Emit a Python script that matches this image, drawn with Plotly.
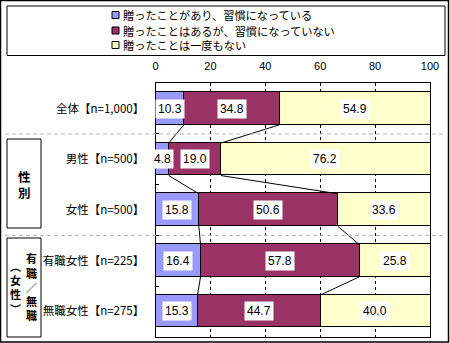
import plotly.graph_objects as go

# ---- data ----
categories = ["全体【n=1,000】", "男性【n=500】", "女性【n=500】", "有職女性【n=225】", "無職女性【n=275】"]
series_names = ["贈ったことがあり、習慣になっている", "贈ったことはあるが、習慣になっていない", "贈ったことは一度もない"]
habit = [10.3, 4.8, 15.8, 16.4, 15.3]
no_habit = [34.8, 19.0, 50.6, 57.8, 44.7]
never = [54.9, 76.2, 33.6, 25.8, 40.0]
x_ticks = [0, 20, 40, 60, 80, 100]

colors = ["#9999FF", "#993366", "#FFFFCC"]
W, H = 450, 343
JP = "Noto Sans CJK JP"
NUM = "Liberation Sans"


def px(x):
    return x / W


def py(y):
    return 1 - y / H


pos = list(range(len(categories)))
bar_w = 0.64
values = [habit, no_habit, never]

fig = go.Figure()
for name, vals, col in zip(series_names, values, colors):
    fig.add_trace(go.Bar(
        y=pos, x=vals, name=name, orientation="h", width=bar_w,
        marker=dict(color=col, line=dict(color="black", width=1)),
        showlegend=False, hoverinfo="skip",
    ))

# series lines joining the segment boundaries of neighbouring bars
cum1 = habit
cum2 = [a + b for a, b in zip(habit, no_habit)]
lx, ly = [], []
for cum in (cum1, cum2):
    for i in range(len(pos) - 1):
        lx += [cum[i], cum[i + 1], None]
        ly += [pos[i] + bar_w / 2, pos[i + 1] - bar_w / 2, None]
fig.add_trace(go.Scatter(x=lx, y=ly, mode="lines", line=dict(color="black", width=1),
                         showlegend=False, hoverinfo="skip"))

annotations = []
# value labels on white boxes
for vals, starts in ((habit, [0] * len(pos)), (no_habit, cum1), (never, cum2)):
    for i, (v, s) in enumerate(zip(vals, starts)):
        annotations.append(dict(
            x=s + v / 2, y=pos[i], xref="x", yref="y", text=f"{v:.1f}",
            showarrow=False, bgcolor="white", borderpad=2,
            font=dict(family=NUM, size=12, color="black"),
        ))

shapes = []
# outer frame and legend box
shapes.append(dict(type="rect", xref="paper", yref="paper", x0=px(0.5), x1=px(448.5),
                   y0=py(342), y1=py(0.5), line=dict(color="black", width=1.5)))
shapes.append(dict(type="rect", xref="paper", yref="paper", x0=px(7), x1=px(445),
                   y0=py(55.5), y1=py(6), line=dict(color="black", width=1)))

# legend entries
legend_rows = [15, 30.5, 45]
for name, col, yc in zip(series_names, colors, legend_rows):
    shapes.append(dict(type="rect", xref="paper", yref="paper", x0=px(112), x1=px(119),
                       y0=py(yc + 3.5), y1=py(yc - 3.5), fillcolor=col,
                       line=dict(color="black", width=1)))
    annotations.append(dict(x=px(121), y=py(yc), xref="paper", yref="paper", text=name,
                            showarrow=False, xanchor="left", yanchor="middle",
                            font=dict(family=JP, size=11.2, color="black")))

# dashed separators between groups
for yb in (0.5, 2.5):
    shapes.append(dict(type="line", xref="paper", yref="y", x0=px(5), x1=px(443),
                       y0=yb, y1=yb, line=dict(color="#B4B4B4", width=1, dash="4px,3px")))

# group boxes with vertical titles
shapes.append(dict(type="rect", xref="paper", yref="paper", x0=px(7), x1=px(41),
                   y0=py(228), y1=py(139), line=dict(color="black", width=1)))
shapes.append(dict(type="rect", xref="paper", yref="paper", x0=px(7), x1=px(41),
                   y0=py(337), y1=py(238), line=dict(color="black", width=1)))


def vertical_text(chars, x, y_positions, size):
    for ch, yc in zip(chars, y_positions):
        annotations.append(dict(x=px(x), y=py(yc), xref="paper", yref="paper",
                                text=f"<b>{ch}</b>", showarrow=False,
                                xanchor="center", yanchor="middle",
                                font=dict(family=JP, size=size, color="black")))


vertical_text("性別", 24, [176.5, 192.5], 12.5)
vertical_text("有職／無職", 31, [258, 272.5, 286.5, 300.5, 315], 11)
vertical_text("︵女性︶", 15, [266, 280, 294, 309], 11)

fig.update_layout(
    width=W, height=H, autosize=False,
    margin=dict(l=0, r=0, t=0, b=0),
    paper_bgcolor="white", plot_bgcolor="white",
    barmode="stack", bargap=0,
    showlegend=False,
    annotations=annotations, shapes=shapes,
    xaxis=dict(
        domain=[px(155.5), px(430)], range=[0, 100], side="top",
        tickvals=x_ticks, ticktext=[str(t) for t in x_ticks],
        showgrid=True, gridcolor="black", griddash="3px,3px", gridwidth=1,
        zeroline=False, showline=True, mirror=True, linecolor="black", linewidth=1,
        ticks="", ticklabelstandoff=8, automargin=False,
        tickfont=dict(family=NUM, size=11, color="black"), fixedrange=True,
    ),
    yaxis=dict(
        domain=[py(336.7), py(83.3)], range=[4.5, -0.5],
        tickvals=pos, ticktext=categories,
        showgrid=False, zeroline=False, showline=True, mirror=True,
        linecolor="black", linewidth=1, ticks="", ticklabelstandoff=8, automargin=False,
        minor=dict(tickvals=[0.5, 1.5, 2.5, 3.5], ticks="inside", ticklen=3,
                   tickcolor="black", showgrid=False),
        tickfont=dict(family=JP, size=11.5, color="black"), fixedrange=True,
    ),
)

fig.write_html("out.html")
